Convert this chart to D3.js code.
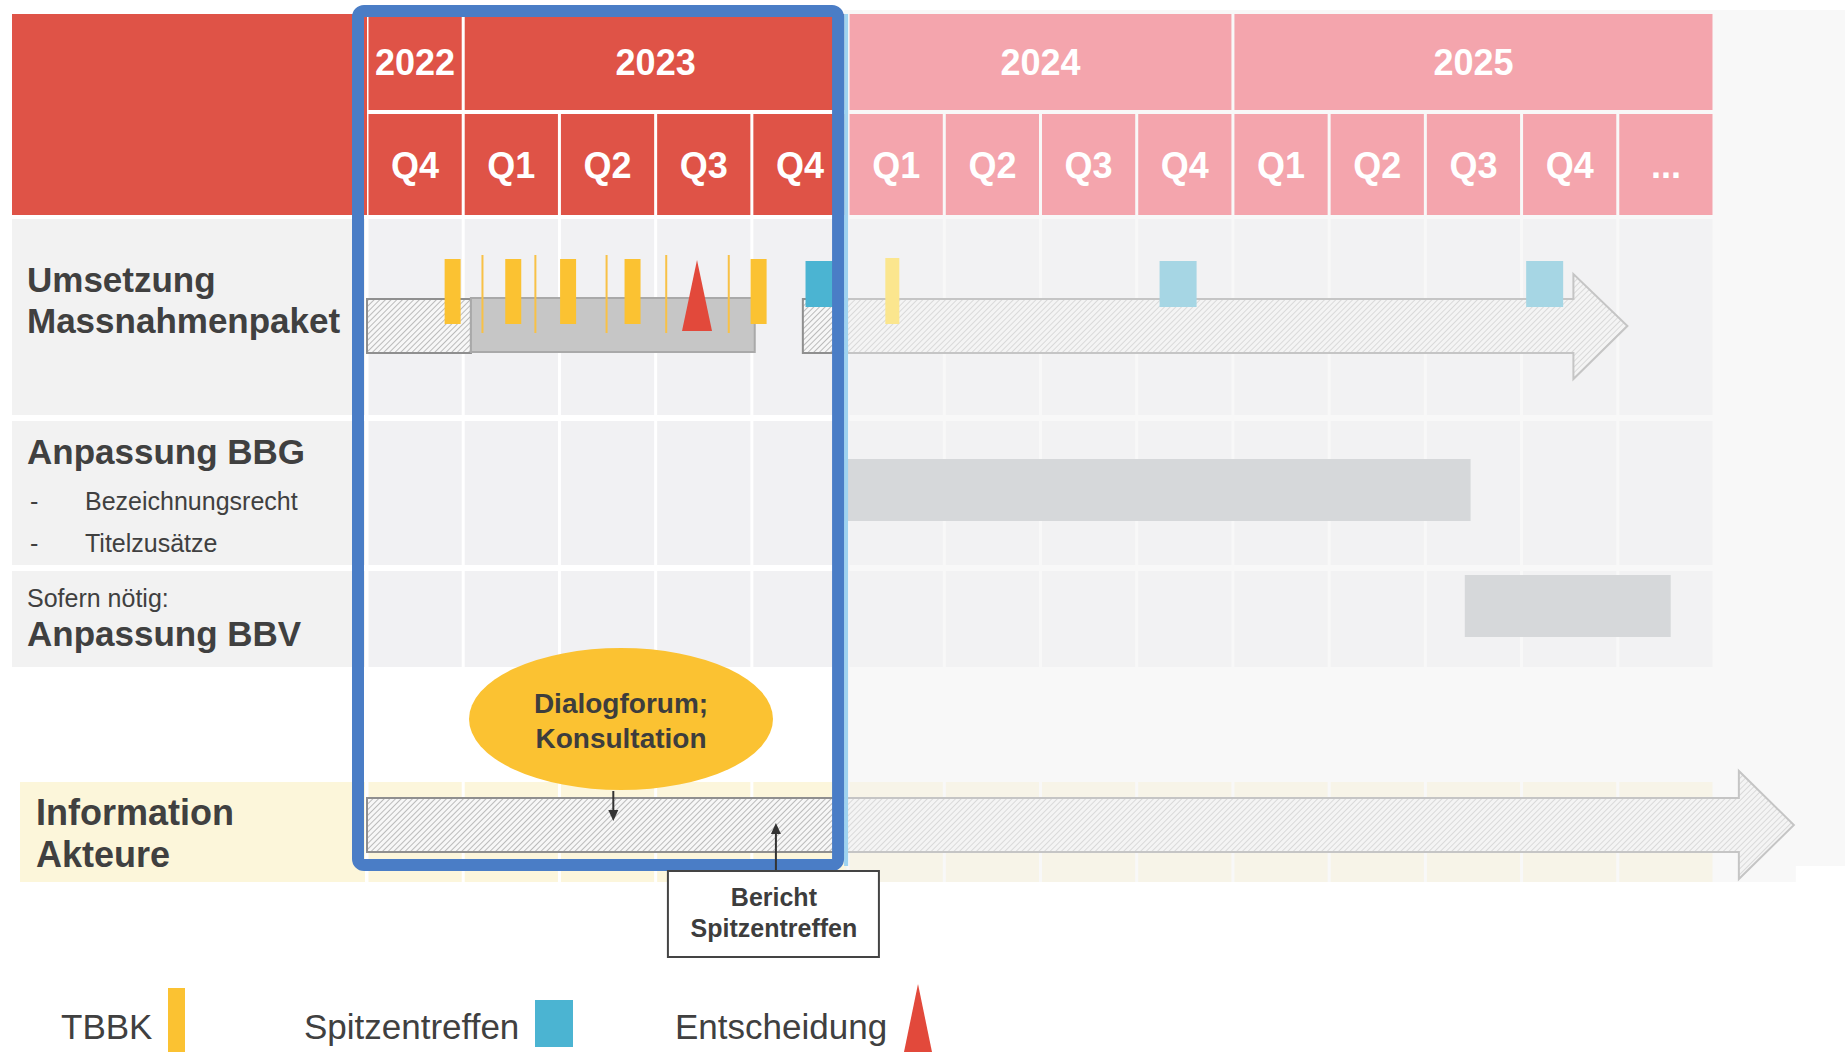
<!DOCTYPE html>
<html><head><meta charset="utf-8">
<script src="https://cdn.jsdelivr.net/npm/d3@7"></script>
<style>body{margin:0;background:#fff;} svg{display:block;font-family:"Liberation Sans",Arial,sans-serif;}</style>
</head><body><svg id="c" width="1845" height="1052"></svg>
<script>
// ---------- data (timeline values in quarter units from start of Q4 2022) ----------
const yearLabels = ["2022", "2023", "2024", "2025"];
const yearStarts = [0, 1, 5, 9];
const yearEnds = [1, 5, 9, 14];
const quarterLabels = ["Q4","Q1","Q2","Q3","Q4","Q1","Q2","Q3","Q4","Q1","Q2","Q3","Q4","..."];
const tbbkMain = [0.89, 1.52, 2.09, 2.76, 4.07, 5.46];
const tbbkMinor = [1.20, 1.75, 2.49, 3.11, 3.76];
const spitzentreffen = [4.75, 8.43, 12.24];
const entscheidung = [3.43];
const massnahmenHatched = [0, 1.08];
const massnahmenSolid = [1.08, 4.03];
const massnahmenArrow = [4.53, 13.10];
const bbgBar = [4.95, 11.47];
const bbvBar = [11.41, 13.55];
const infoArrow = [0, 14.83];
const focusWindow = [0, 5];
const dialogForumAt = 2.64;
const dialogArrowAt = 2.56;
const berichtAt = 4.25;
const legendLabels = ["TBBK", "Spitzentreffen", "Entscheidung"];

// ---------- layout ----------
const RED = "#df5347", PINK = "#f4a5ad", BLUE = "#4a7dc6", ORANGE = "#fbc232",
      CYAN = "#4bb4d2", TRI = "#e2493b", TXT = "#404040";
const x = d3.scaleLinear().domain([0, 14]).range([367, 1714]);
const quarters = d3.range(quarterLabels.length);
const rowBand = {massnahmen: [219, 415], bbg: [421, 565], bbv: [571, 667], info: [782, 882]};
const inFocus = d => d < focusWindow[1];

const svg = d3.select("#c");
const defs = svg.append("defs");
const pat = defs.append("pattern").attr("id", "hatch").attr("width", 4).attr("height", 4)
  .attr("patternUnits", "userSpaceOnUse").attr("patternTransform", "rotate(45)");
pat.append("rect").attr("width", 4).attr("height", 4).attr("fill", "#f7f7f7");
pat.append("line").attr("x1", 0).attr("y1", 0).attr("x2", 0).attr("y2", 4)
  .attr("stroke", "#9a9a9a").attr("stroke-width", 1.3);

// ---------- row backgrounds ----------
const bg = svg.append("g");
[["massnahmen", "#f2f2f2", "#f1f1f3", 12], ["bbg", "#f2f2f2", "#f1f1f3", 12],
 ["bbv", "#f2f2f2", "#f1f1f3", 12], ["info", "#fcf6da", "#fcf6dc", 20]].forEach(([k, lc, cc, lx]) => {
  const [y0, y1] = rowBand[k];
  bg.append("rect").attr("x", lx).attr("y", y0).attr("width", x(0) - 2 - lx).attr("height", y1 - y0).attr("fill", lc);
  bg.selectAll(null).data(quarters).join("rect")
    .attr("x", d => x(d) + 1.5).attr("y", y0)
    .attr("width", d => x(d + 1) - x(d) - 3).attr("height", y1 - y0).attr("fill", cc);
});

// ---------- row labels ----------
const lab = svg.append("g").attr("fill", TXT);
function txt(g, s, xx, yy, size, weight, anchor) {
  return g.append("text").attr("x", xx).attr("y", yy).attr("font-size", size)
    .attr("font-weight", weight || "normal").attr("text-anchor", anchor || "start").text(s);
}
txt(lab, "Umsetzung", 27, 292, 35, "bold");
txt(lab, "Massnahmenpaket", 27, 333, 35, "bold");
txt(lab, "Anpassung BBG", 27, 464, 35, "bold");
txt(lab, "-", 30, 510, 25);
txt(lab, "Bezeichnungsrecht", 85, 510, 25);
txt(lab, "-", 30, 552, 25);
txt(lab, "Titelzusätze", 85, 552, 25);
txt(lab, "Sofern nötig:", 27, 607, 25);
txt(lab, "Anpassung BBV", 27, 646, 35, "bold");
txt(lab, "Information", 36, 825, 36, "bold");
txt(lab, "Akteure", 36, 867, 36, "bold");

// ---------- bars ----------
const marks = svg.append("g");
function arrowPath(s, e, top, bot, headTop, headBot, headLen) {
  const p = d3.path();
  const xb = x(e) - headLen, mid = (top + bot) / 2;
  p.moveTo(x(s), top); p.lineTo(xb, top); p.lineTo(xb, headTop); p.lineTo(x(e), mid);
  p.lineTo(xb, headBot); p.lineTo(xb, bot); p.lineTo(x(s), bot); p.closePath();
  return p.toString();
}
marks.append("rect").attr("x", x(massnahmenHatched[0])).attr("y", 299)
  .attr("width", x(massnahmenHatched[1]) - x(massnahmenHatched[0])).attr("height", 54)
  .attr("fill", "url(#hatch)").attr("stroke", "#8f8f8f").attr("stroke-width", 2);
marks.append("rect").attr("x", x(massnahmenSolid[0])).attr("y", 298)
  .attr("width", x(massnahmenSolid[1]) - x(massnahmenSolid[0])).attr("height", 54)
  .attr("fill", "#c6c6c6").attr("stroke", "#a9a9a9").attr("stroke-width", 2);
marks.append("path").attr("d", arrowPath(massnahmenArrow[0], massnahmenArrow[1], 299, 353, 274, 379, 54))
  .attr("fill", "url(#hatch)").attr("stroke", "#8f8f8f").attr("stroke-width", 2);
marks.append("rect").attr("x", x(bbgBar[0])).attr("y", 459)
  .attr("width", x(bbgBar[1]) - x(bbgBar[0])).attr("height", 62).attr("fill", "#b4b8bc");
marks.append("rect").attr("x", x(bbvBar[0])).attr("y", 575)
  .attr("width", x(bbvBar[1]) - x(bbvBar[0])).attr("height", 62).attr("fill", "#b4b8bc");
marks.append("path").attr("d", arrowPath(infoArrow[0], infoArrow[1], 798, 852, 771, 879, 55))
  .attr("fill", "url(#hatch)").attr("stroke", "#8f8f8f").attr("stroke-width", 2);

marks.selectAll(".minor").data(tbbkMinor).join("rect")
  .attr("x", d => x(d) - 1).attr("y", 255).attr("width", 2).attr("height", 78).attr("fill", "#f8c146");
marks.selectAll(".main").data(tbbkMain.filter(inFocus)).join("rect")
  .attr("x", d => x(d) - 8).attr("y", 259).attr("width", 16).attr("height", 65).attr("fill", ORANGE);
marks.selectAll(".tri").data(entscheidung).join("path")
  .attr("d", d => `M${x(d) - 15},331L${x(d)},260L${x(d) + 15},331Z`).attr("fill", TRI);
marks.selectAll(".sq").data(spitzentreffen).join("rect")
  .attr("x", d => x(d) - 18.5).attr("y", 261).attr("width", 37).attr("height", 46).attr("fill", CYAN);

// ---------- fade overlay for the future ----------
const fadeX = x(focusWindow[1]) - 4;
svg.append("rect").attr("x", fadeX).attr("y", 10).attr("width", 1845 - fadeX).attr("height", 856)
  .attr("fill", "#f3f3f3").attr("opacity", 0.55);
svg.append("rect").attr("x", fadeX).attr("y", 866).attr("width", x(infoArrow[1]) + 2 - fadeX).attr("height", 16)
  .attr("fill", "#f3f3f3").attr("opacity", 0.55);
// faded future TBBK markers (pale yellow)
svg.selectAll(".futT").data(tbbkMain.filter(d => !inFocus(d))).join("rect")
  .attr("x", d => x(d) - 7).attr("y", 258).attr("width", 14).attr("height", 66).attr("fill", "#fbe68e");

// ---------- header ----------
const hdr = svg.append("g");
hdr.append("rect").attr("x", 12).attr("y", 14).attr("width", x(0) - 12).attr("height", 201).attr("fill", RED);
hdr.selectAll(".yc").data(yearLabels).join("rect")
  .attr("x", (d, i) => x(yearStarts[i]) + 1.5).attr("y", 14)
  .attr("width", (d, i) => x(yearEnds[i]) - x(yearStarts[i]) - 3).attr("height", 96)
  .attr("fill", (d, i) => inFocus(yearStarts[i]) ? RED : PINK);
hdr.selectAll(".yt").data(yearLabels).join("text")
  .attr("x", (d, i) => (x(yearStarts[i]) + x(yearEnds[i])) / 2).attr("y", 75)
  .attr("text-anchor", "middle").attr("font-size", 36).attr("font-weight", "bold").attr("fill", "#fff").text(d => d);
hdr.selectAll(".qc").data(quarters).join("rect")
  .attr("x", d => x(d) + 1.5).attr("y", 114).attr("width", d => x(d + 1) - x(d) - 3).attr("height", 101)
  .attr("fill", d => inFocus(d) ? RED : PINK);
hdr.selectAll(".qt").data(quarters).join("text")
  .attr("x", d => (x(d) + x(d + 1)) / 2).attr("y", 178)
  .attr("text-anchor", "middle").attr("font-size", 36).attr("font-weight", "bold").attr("fill", "#fff")
  .text(d => quarterLabels[d]);

// light blue strip and focus box
svg.append("rect").attr("x", fadeX).attr("y", 14).attr("width", 4).attr("height", 852).attr("fill", "#9fd3f0");
svg.append("rect").attr("x", x(focusWindow[0]) - 9).attr("y", 11)
  .attr("width", x(focusWindow[1]) - 10 - (x(focusWindow[0]) - 9)).attr("height", 854)
  .attr("rx", 6).attr("fill", "none").attr("stroke", BLUE).attr("stroke-width", 12);

// ---------- dialog forum ----------
const ann = svg.append("g");
ann.append("ellipse").attr("cx", x(dialogForumAt)).attr("cy", 719).attr("rx", 152).attr("ry", 71).attr("fill", ORANGE);
txt(ann, "Dialogforum;", x(dialogForumAt), 713, 28, "bold", "middle").attr("fill", "#3d3d3d");
txt(ann, "Konsultation", x(dialogForumAt), 748, 28, "bold", "middle").attr("fill", "#3d3d3d");
const ax = x(dialogArrowAt);
ann.append("line").attr("x1", ax).attr("y1", 791).attr("x2", ax).attr("y2", 812).attr("stroke", "#333").attr("stroke-width", 2);
ann.append("path").attr("d", `M${ax - 5},810L${ax + 5},810L${ax},821Z`).attr("fill", "#333");
const bx = x(berichtAt);
ann.append("line").attr("x1", bx).attr("y1", 871).attr("x2", bx).attr("y2", 832).attr("stroke", "#333").attr("stroke-width", 2);
ann.append("path").attr("d", `M${bx - 5},834L${bx + 5},834L${bx},823Z`).attr("fill", "#333");
ann.append("rect").attr("x", bx - 108).attr("y", 871).attr("width", 211).attr("height", 86)
  .attr("fill", "#fff").attr("stroke", "#444").attr("stroke-width", 2);
txt(ann, "Bericht", bx - 2, 906, 25, "bold", "middle").attr("fill", "#3d3d3d");
txt(ann, "Spitzentreffen", bx - 2, 937, 25, "bold", "middle").attr("fill", "#3d3d3d");

// ---------- legend ----------
const lg = svg.append("g").attr("fill", TXT);
txt(lg, legendLabels[0], 61, 1039, 35);
lg.append("rect").attr("x", 168).attr("y", 988).attr("width", 17).attr("height", 64).attr("fill", ORANGE);
txt(lg, legendLabels[1], 304, 1039, 35);
lg.append("rect").attr("x", 535).attr("y", 1000).attr("width", 38).attr("height", 47).attr("fill", CYAN);
txt(lg, legendLabels[2], 675, 1039, 35);
lg.append("path").attr("d", "M904,1052L918,984L932,1052Z").attr("fill", TRI);
</script></body></html>
